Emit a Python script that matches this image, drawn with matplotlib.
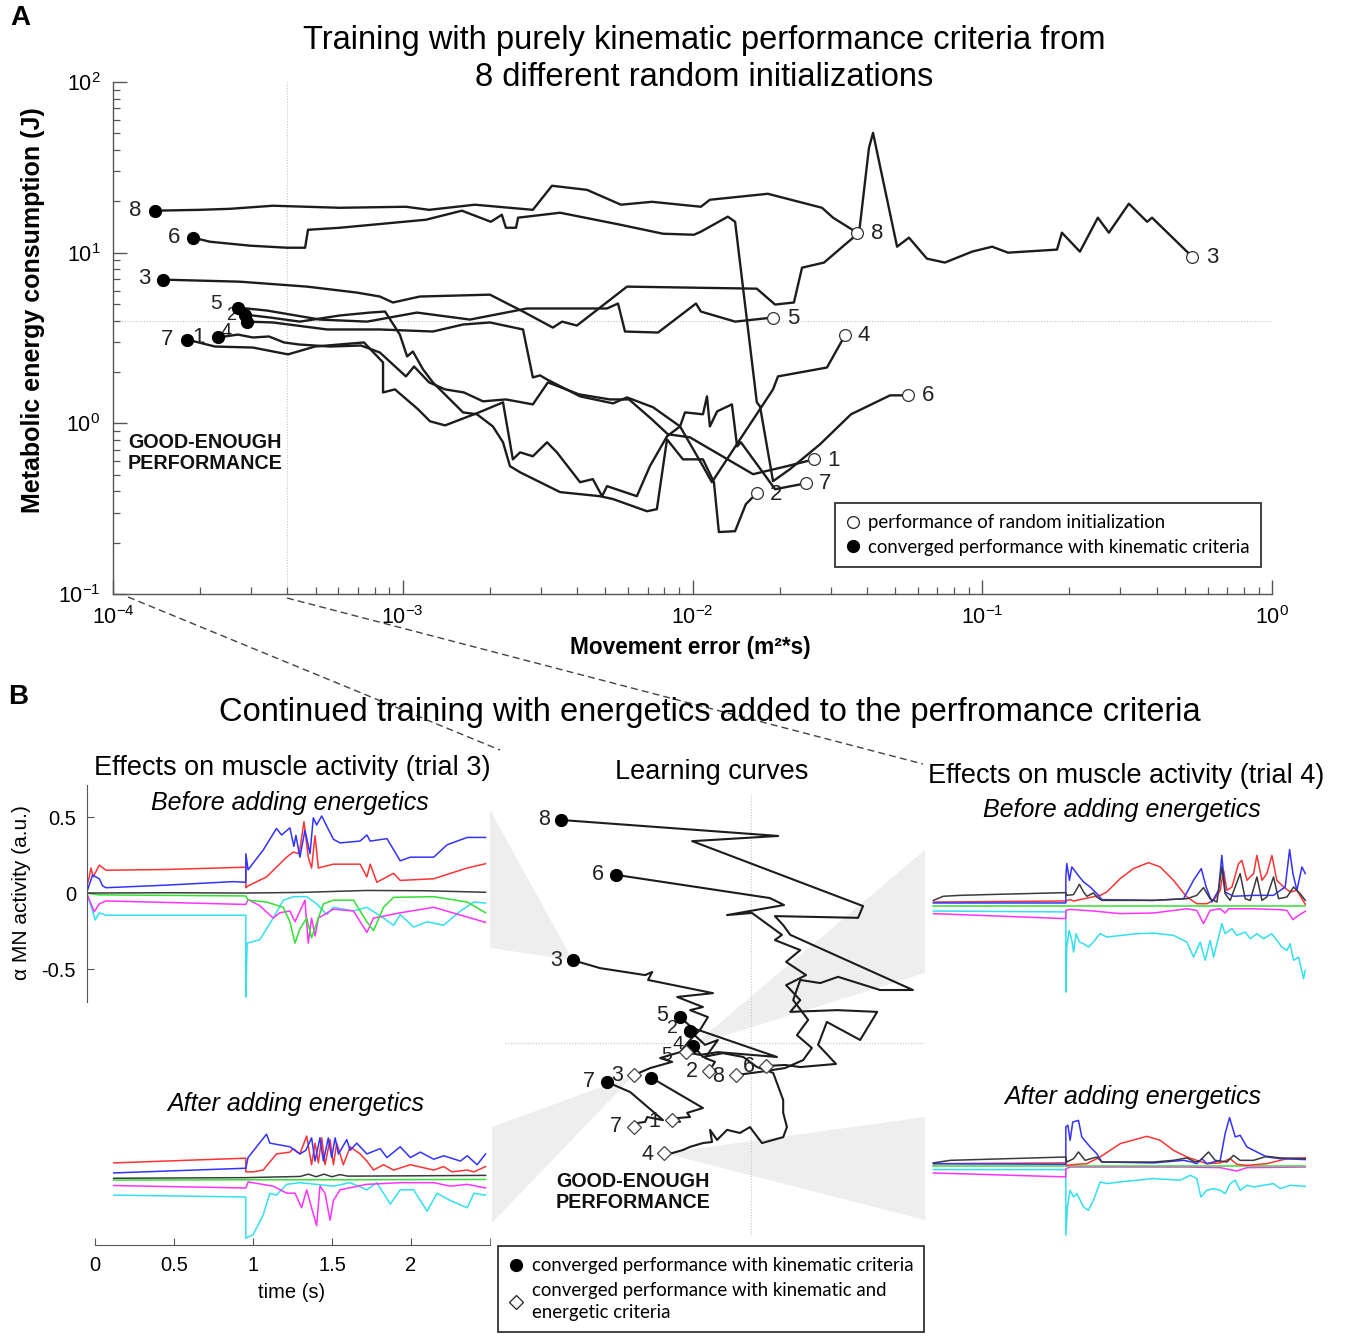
import numpy as np
import matplotlib
matplotlib.use('Agg')
import matplotlib.pyplot as plt
from matplotlib.lines import Line2D
from matplotlib.patches import Polygon
from matplotlib.ticker import FixedLocator, NullFormatter

plt.rcParams['font.family'] = ['Liberation Sans', 'DejaVu Sans']
plt.rcParams['mathtext.fontset'] = 'custom'
plt.rcParams['mathtext.rm'] = 'Liberation Sans'
plt.rcParams['mathtext.it'] = 'Liberation Sans:italic'
plt.rcParams['mathtext.bf'] = 'Liberation Sans:bold'
plt.rcParams['axes.unicode_minus'] = False

# ---------------- DATA (panel A, log10 of movement error / energy) ----------------
trials = [1, 2, 3, 4, 5, 6, 7, 8]
a1_x = [-3.638,-3.569,-3.517,-3.462,-3.410,-3.358,-3.251,-3.144,-3.079,-2.989,-2.961,-2.909,-2.854,-2.789,-2.723,-2.644,-2.551,-2.499,-2.392,-2.285,-2.219,-2.140,-2.085,-2.009,-1.791,-1.674,-1.581]
a1_y = [0.503,0.520,0.503,0.509,0.474,0.462,0.450,0.456,0.415,0.275,0.333,0.240,0.199,0.181,0.129,0.140,0.111,0.240,0.170,0.140,0.140,0.023,-0.064,-0.082,-0.298,-0.251,-0.211]
a2_x = [-3.544,-3.458,-3.355,-3.217,-3.113,-3.061,-3.010,-2.985,-2.965,-2.930,-2.896,-2.792,-2.744,-2.689,-2.654,-2.630,-2.595,-2.457,-2.319,-2.274,-2.157,-2.123,-2.088,-2.033,-1.964,-1.926,-1.909,-1.853,-1.816,-1.778]
a2_y = [0.637,0.620,0.596,0.632,0.649,0.655,0.520,0.392,0.421,0.316,0.240,0.064,0.053,-0.018,-0.111,-0.251,-0.287,-0.403,-0.427,-0.444,-0.515,-0.503,-0.094,-0.211,-0.211,-0.345,-0.637,-0.632,-0.474,-0.409]
a3_x = [-3.827,-3.562,-3.330,-3.158,-3.079,-3.034,-2.941,-2.699,-2.585,-2.482,-2.450,-2.399,-2.226,-1.778,-1.715,-1.650,-1.622,-1.546,-1.474,-1.425,-1.391,-1.377,-1.294,-1.253,-1.191,-1.129,-1.035,-0.966,-0.911,-0.742,-0.725,-0.663,-0.601,-0.563,-0.494,-0.431,-0.414,-0.276]
a3_y = [0.842,0.830,0.801,0.766,0.743,0.708,0.743,0.754,0.655,0.561,0.596,0.573,0.801,0.789,0.696,0.708,0.912,0.942,1.047,1.117,1.614,1.702,1.035,1.088,0.965,0.942,1.006,1.035,1.000,1.018,1.117,1.006,1.205,1.117,1.287,1.181,1.205,0.977]
a4_x = [-3.538,-3.448,-3.261,-3.079,-2.896,-2.792,-2.699,-2.585,-2.551,-2.526,-2.502,-2.388,-2.274,-2.226,-2.136,-2.043,-1.964,-1.933,-1.836,-1.722,-1.705,-1.536,-1.474]
a4_y = [0.596,0.591,0.550,0.550,0.538,0.579,0.591,0.550,0.269,0.281,0.257,0.158,0.117,0.152,0.094,-0.018,-0.251,-0.345,-0.094,0.199,0.275,0.327,0.515]
a5_x = [-3.569,-3.469,-3.286,-3.123,-2.951,-2.768,-2.571,-2.295,-2.257,-2.233,-2.119,-1.988,-1.971,-1.853,-1.722]
a5_y = [0.678,0.661,0.608,0.596,0.649,0.608,0.673,0.673,0.702,0.538,0.532,0.702,0.655,0.596,0.620]
a6_x = [-3.724,-3.665,-3.527,-3.400,-3.337,-3.327,-3.217,-2.920,-2.796,-2.696,-2.658,-2.644,-2.609,-2.602,-2.457,-2.250,-2.102,-1.995,-1.971,-1.878,-1.853,-1.778,-1.767,-1.722,-1.664,-1.560,-1.453,-1.318,-1.256]
a6_y = [1.088,1.064,1.041,1.029,1.029,1.134,1.146,1.193,1.246,1.181,1.222,1.146,1.146,1.205,1.234,1.164,1.111,1.105,1.123,1.211,1.181,0.123,0.099,-0.339,-0.269,-0.123,0.053,0.164,0.164]
a7_x = [-3.745,-3.648,-3.517,-3.396,-3.303,-3.134,-3.068,-3.068,-3.027,-2.947,-2.906,-2.854,-2.737,-2.654,-2.620,-2.595,-2.551,-2.502,-2.468,-2.388,-2.344,-2.312,-2.295,-2.192,-2.147,-2.088,-2.043,-2.026,-1.964,-1.950,-1.940,-1.915,-1.864,-1.846,-1.833,-1.715,-1.608]
a7_y = [0.491,0.450,0.444,0.404,0.450,0.474,0.357,0.181,0.199,0.082,0.012,-0.012,0.064,0.123,-0.211,-0.170,-0.193,-0.111,-0.170,-0.345,-0.327,-0.427,-0.368,-0.427,-0.251,-0.076,-0.018,0.064,0.053,0.158,-0.018,0.070,0.111,-0.135,-0.111,-0.386,-0.351]
a8_x = [-3.855,-3.700,-3.596,-3.448,-3.217,-2.989,-2.909,-2.751,-2.551,-2.485,-2.364,-2.247,-2.140,-1.971,-1.940,-1.740,-1.553,-1.515,-1.432]
a8_y = [1.246,1.251,1.257,1.275,1.263,1.269,1.251,1.281,1.251,1.392,1.368,1.281,1.298,1.269,1.310,1.345,1.263,1.205,1.117]

# ---------------- DATA (panel B learning curves, log10) ----------------
m1_x = [-3.638,-3.514,-3.552,-3.545,-3.576,-3.569,-3.588]
m1_y = [0.503,0.416,0.402,0.390,0.387,0.376,0.381]
m2_x = [-3.544,-3.509,-3.478,-3.509,-3.485,-3.499]
m2_y = [0.637,0.598,0.612,0.560,0.549,0.523]
m3_x = [-3.827,-3.761,-3.653,-3.636,-3.646,-3.490,-3.576,-3.514,-3.545,-3.502,-3.521,-3.545,-3.569,-3.617,-3.588,-3.641,-3.680]
m3_y = [0.842,0.819,0.799,0.808,0.785,0.747,0.736,0.707,0.698,0.678,0.641,0.612,0.577,0.560,0.549,0.531,0.511]
m4_x = [-3.538,-3.514,-3.466,-3.417,-3.384,-3.345,-3.321,-3.321,-3.312,-3.321,-3.372,-3.401,-3.425,-3.456,-3.480,-3.497,-3.492,-3.514,-3.545,-3.562,-3.588,-3.607]
m4_y = [0.596,0.563,0.574,0.563,0.534,0.517,0.439,0.402,0.361,0.332,0.315,0.361,0.344,0.353,0.324,0.353,0.318,0.315,0.304,0.295,0.286,0.286]
m5_x = [-3.569,-3.540,-3.336,-3.478,-3.521,-3.555]
m5_y = [0.678,0.647,0.563,0.577,0.569,0.577]
m6_x = [-3.724,-3.353,-3.319,-3.456,-3.396,-3.324,-3.341,-3.280,-3.314,-3.266,-3.314,-3.280,-3.304,-3.191,-3.095,-3.136,-3.216,-3.237,-3.194,-3.280,-3.317,-3.362]
m6_y = [1.088,1.021,1.001,0.972,0.978,0.915,0.900,0.871,0.837,0.799,0.770,0.727,0.693,0.698,0.693,0.612,0.664,0.598,0.543,0.534,0.540,0.537]
m7_x = [-3.745,-3.689,-3.610,-3.648,-3.653,-3.670,-3.680]
m7_y = [0.491,0.462,0.381,0.390,0.376,0.373,0.361]
m8_x = [-3.855,-3.333,-3.540,-3.129,-3.141,-3.341,-3.321,-3.304,-3.009,-3.088,-3.189,-3.232,-3.280,-3.297,-3.261,-3.288,-3.252,-3.273,-3.317,-3.377,-3.434]
m8_y = [1.246,1.200,1.185,0.998,0.964,0.969,0.943,0.915,0.756,0.756,0.794,0.776,0.785,0.727,0.670,0.626,0.589,0.554,0.531,0.520,0.511]

err_threshold = 4e-4
energy_threshold = 4.0

# ---------------- DATA (muscle activity, time s / a.u.) ----------------
t3b_red = [-0.053,-0.036,-0.025,-0.011,0.028,0.07,0.45,0.955,0.955,0.969,1.086,1.213,1.255,1.293,1.323,1.35,1.371,1.393,1.414,1.509,1.678,1.721,1.742,1.784,1.89,1.932,2.144,2.356,2.472]
v3b_red = [0.035,0.106,0.165,0.106,0.184,0.15,0.155,0.17,0.035,0.047,0.106,0.236,0.27,0.259,0.47,0.236,0.165,0.377,0.165,0.19,0.19,0.106,0.19,0.071,0.13,0.083,0.094,0.165,0.193]
t3b_blue = [-0.053,-0.015,0.028,0.049,0.07,0.45,0.874,0.955,0.955,0.969,1.065,1.149,1.181,1.234,1.259,1.272,1.297,1.329,1.361,1.382,1.403,1.435,1.509,1.551,1.678,1.721,1.742,1.848,1.932,1.996,2.144,2.229,2.356,2.472]
v3b_blue = [0,0.118,0.094,0.047,0.035,0.052,0.075,0.071,0.259,0.153,0.283,0.425,0.382,0.429,0.307,0.38,0.236,0.413,0.259,0.495,0.448,0.507,0.354,0.33,0.342,0.382,0.342,0.358,0.212,0.236,0.236,0.318,0.366,0.366]
t3b_black = [-0.053,0.45,0.955,1.3,1.721,2.1,2.472]
v3b_black = [0,0.002,0,0.004,0.017,0.015,0.005]
t3b_green = [-0.053,0.028,0.955,0.969,1.086,1.192,1.234,1.266,1.297,1.34,1.371,1.414,1.446,1.509,1.636,1.721,1.763,1.826,1.89,2.144,2.356,2.472]
v3b_green = [0,-0.012,-0.019,-0.047,-0.059,-0.094,-0.189,-0.33,-0.236,-0.165,-0.295,-0.165,-0.071,-0.047,-0.047,-0.189,-0.248,-0.094,-0.028,-0.024,-0.059,-0.13]
t3b_magenta = [-0.053,-0.015,-0.004,0.028,0.07,0.955,0.969,1.043,1.128,1.17,1.234,1.266,1.329,1.35,1.371,1.393,1.414,1.509,1.636,1.721,1.763,1.932,2.144,2.472]
v3b_magenta = [0,-0.094,-0.123,-0.071,-0.052,-0.075,-0.042,-0.083,-0.165,-0.13,-0.118,-0.189,-0.047,-0.33,-0.165,-0.283,-0.165,-0.106,-0.118,-0.259,-0.165,-0.13,-0.094,-0.193]
t3b_cyan = [-0.053,-0.015,0.002,0.028,0.07,0.955,0.955,0.963,1.043,1.128,1.192,1.255,1.34,1.403,1.467,1.509,1.636,1.721,1.826,1.89,1.932,2.017,2.102,2.207,2.313,2.398,2.472]
v3b_cyan = [0,-0.118,-0.177,-0.13,-0.146,-0.146,-0.684,-0.33,-0.307,-0.165,-0.047,-0.024,-0.024,-0.071,-0.142,-0.094,-0.118,-0.094,-0.165,-0.212,-0.142,-0.224,-0.189,-0.212,-0.118,-0.059,-0.066]

t3a_red = [0.119,0.955,0.955,1.001,1.065,1.149,1.234,1.255,1.297,1.34,1.371,1.393,1.414,1.435,1.456,1.488,1.509,1.53,1.572,1.615,1.678,1.721,1.763,1.826,1.89,1.996,2.144,2.207,2.26,2.356,2.398,2.472]
v3a_red = [0.099,0.13,0.04,0.04,0.052,0.158,0.17,0.193,0.158,0.276,0.087,0.229,0.099,0.264,0.087,0.252,0.087,0.229,0.087,0.205,0.158,0.111,0.052,0.087,0.052,0.087,0.052,0.075,0.04,0.052,0.04,0.075]
t3a_blue = [0.119,0.955,0.969,1.086,1.107,1.234,1.297,1.335,1.371,1.393,1.424,1.446,1.477,1.498,1.52,1.541,1.594,1.615,1.657,1.721,1.805,1.848,1.932,1.996,2.059,2.144,2.207,2.313,2.356,2.419,2.472]
v3a_blue = [0.033,0.064,0.134,0.288,0.229,0.205,0.158,0.182,0.264,0.111,0.264,0.111,0.264,0.134,0.264,0.158,0.252,0.182,0.229,0.158,0.193,0.134,0.205,0.134,0.17,0.123,0.146,0.111,0.146,0.087,0.158]
t3a_black = [0.119,0.955,1.3,1.35,1.4,1.45,1.5,1.55,1.6,2.0,2.472]
v3a_black = [-0.002,0.002,0.01,0.025,0.008,0.025,0.008,0.022,0.012,0.014,0.017]
t3a_green = [0.119,0.955,1.5,2.472]
v3a_green = [-0.014,-0.012,-0.012,-0.01]
t3a_magenta = [0.119,0.955,0.969,1.128,1.213,1.266,1.308,1.34,1.371,1.403,1.424,1.456,1.488,1.509,1.551,1.721,1.932,2.144,2.25,2.356,2.472]
v3a_magenta = [-0.05,-0.066,-0.026,-0.054,-0.1,-0.1,-0.196,-0.078,-0.196,-0.314,-0.054,-0.101,-0.278,-0.149,-0.078,-0.042,-0.031,-0.031,-0.054,-0.042,-0.066]
t3a_cyan = [0.119,0.955,0.955,1.001,1.065,1.107,1.149,1.213,1.297,1.509,1.615,1.721,1.784,1.869,1.932,2.017,2.102,2.165,2.25,2.356,2.398,2.472]
v3a_cyan = [-0.113,-0.125,-0.396,-0.373,-0.243,-0.101,-0.113,-0.042,-0.031,-0.054,-0.031,-0.078,-0.031,-0.172,-0.078,-0.078,-0.219,-0.101,-0.149,-0.196,-0.101,-0.113]

t4b_black = [0.117,0.180,0.286,0.455,0.955,0.961,1.004,1.041,1.067,1.088,1.130,1.151,1.183,1.510,1.721,1.784,1.826,1.868,1.911,1.942,1.963,1.995,2.058,2.090,2.122,2.164,2.196,2.227,2.269,2.301,2.354,2.396,2.438,2.470]
v4b_black = [0.037,0.064,0.070,0.075,0.088,0.070,0.075,0.143,0.092,0.064,0.086,0.059,0.037,0.037,0.048,0.070,0.121,0.048,0.026,0.257,0.081,0.037,0.213,0.048,0.037,0.191,0.037,0.059,0.191,0.048,0.059,0.125,0.081,0.037]
t4b_red = [0.117,0.955,0.961,0.982,1.004,1.172,1.214,1.299,1.383,1.478,1.552,1.636,1.721,1.784,1.847,1.890,1.932,1.953,1.974,2.006,2.048,2.069,2.101,2.143,2.164,2.196,2.227,2.259,2.290,2.333,2.375,2.417,2.470]
v4b_red = [0.026,0.033,0.037,0.042,0.033,0.070,0.092,0.180,0.246,0.285,0.257,0.169,0.059,0.015,0.015,0.037,0.103,0.235,0.103,0.125,0.279,0.300,0.169,0.213,0.333,0.169,0.213,0.333,0.169,0.125,0.092,0.103,0.011]
t4b_blue = [0.117,0.955,0.955,0.961,0.978,0.993,1.025,1.067,1.109,1.162,1.183,1.510,1.700,1.763,1.812,1.843,1.879,1.921,1.942,1.963,2.016,2.143,2.269,2.312,2.343,2.371,2.392,2.417,2.449,2.470]
v4b_blue = [0.020,0.020,0.191,0.279,0.169,0.257,0.213,0.158,0.125,0.070,0.042,0.037,0.048,0.169,0.246,0.125,0.026,0.103,0.333,0.092,0.064,0.070,0.070,0.103,0.125,0.371,0.213,0.103,0.257,0.213]
t4b_green = [0.117,2.470]
v4b_green = [0.0,0.0]
t4b_magenta = [0.117,0.955,0.955,0.982,1.130,1.299,1.510,1.721,1.784,1.826,1.868,1.932,1.963,1.985,2.143,2.312,2.354,2.392,2.428,2.470]
v4b_magenta = [-0.050,-0.083,-0.029,-0.022,-0.033,-0.050,-0.046,-0.018,-0.029,-0.116,-0.029,-0.018,-0.046,-0.018,-0.018,-0.024,-0.029,-0.090,-0.061,-0.035]
t4b_cyan = [0.117,0.955,0.955,0.961,0.976,0.993,1.004,1.020,1.041,1.067,1.098,1.130,1.162,1.172,1.214,1.404,1.510,1.636,1.721,1.763,1.805,1.837,1.868,1.890,1.932,1.942,1.963,2.006,2.037,2.090,2.122,2.164,2.206,2.259,2.290,2.322,2.354,2.375,2.396,2.428,2.459,2.470]
v4b_cyan = [-0.033,-0.039,-0.566,-0.270,-0.160,-0.226,-0.303,-0.182,-0.237,-0.248,-0.270,-0.237,-0.193,-0.182,-0.204,-0.182,-0.178,-0.193,-0.237,-0.336,-0.237,-0.357,-0.226,-0.336,-0.160,-0.116,-0.182,-0.149,-0.193,-0.171,-0.215,-0.182,-0.215,-0.182,-0.226,-0.270,-0.292,-0.248,-0.357,-0.336,-0.478,-0.423]

t4a_black = [0.117,0.223,0.955,0.961,1.004,1.035,1.077,1.151,1.183,1.510,1.636,1.721,1.774,1.805,1.858,1.900,1.974,2.016,2.058,2.143,2.227,2.312,2.470]
v4a_black = [0.020,0.037,0.059,0.026,0.048,0.092,0.037,0.059,0.026,0.026,0.037,0.053,0.026,0.037,0.092,0.037,0.026,0.070,0.037,0.037,0.064,0.053,0.048]
t4a_red = [0.117,0.955,0.961,1.025,1.088,1.172,1.299,1.468,1.552,1.636,1.721,1.784,1.847,1.932,1.995,2.037,2.101,2.227,2.312,2.354,2.470]
v4a_red = [0.015,0.020,0.004,0.011,0.015,0.059,0.147,0.195,0.169,0.103,0.059,0.037,0.015,0.020,0.048,0.011,0.004,0.015,0.037,0.048,0.053]
t4a_blue = [0.117,0.955,0.955,0.968,0.982,0.999,1.035,1.056,1.109,1.151,1.183,1.510,1.700,1.752,1.784,1.816,1.847,1.932,1.963,1.991,2.027,2.058,2.101,2.143,2.227,2.312,2.470]
v4a_blue = [0.015,0.011,0.257,0.268,0.169,0.289,0.300,0.191,0.125,0.081,0.026,0.020,0.037,0.026,0.015,0.048,0.015,0.037,0.213,0.318,0.191,0.202,0.125,0.103,0.059,0.048,0.042]
t4a_green = [0.117,2.470]
v4a_green = [0.0,0.0]
t4a_magenta = [0.117,0.955,0.955,0.982,1.299,1.721,1.932,2.037,2.101,2.470]
v4a_magenta = [-0.046,-0.072,-0.018,-0.007,-0.007,-0.007,-0.011,-0.033,-0.011,-0.007]
t4a_cyan = [0.117,0.955,0.955,0.965,0.982,1.004,1.025,1.067,1.098,1.130,1.172,1.214,1.299,1.510,1.679,1.742,1.784,1.809,1.847,1.890,1.932,1.963,1.995,2.027,2.058,2.101,2.143,2.206,2.269,2.312,2.375,2.470]
v4a_cyan = [-0.024,-0.024,-0.456,-0.270,-0.160,-0.204,-0.182,-0.270,-0.292,-0.226,-0.105,-0.116,-0.105,-0.083,-0.094,-0.061,-0.083,-0.204,-0.160,-0.149,-0.160,-0.182,-0.116,-0.094,-0.160,-0.127,-0.138,-0.127,-0.116,-0.149,-0.127,-0.134]

# ---------------- FIGURE ----------------
W, H = 1346, 1336
fig = plt.figure(figsize=(W / 100, H / 100), dpi=100)


def P(x, y):
    return (x / W, 1 - y / H)


def box(x0, y0, x1, y1):
    return [x0 / W, 1 - y1 / H, (x1 - x0) / W, (y1 - y0) / H]


LINE = '#1c1c1c'
AX = '#555555'
LEGFONT = {'family': 'Lato', 'size': 13.4}

A_x = {1: a1_x, 2: a2_x, 3: a3_x, 4: a4_x, 5: a5_x, 6: a6_x, 7: a7_x, 8: a8_x}
A_y = {1: a1_y, 2: a2_y, 3: a3_y, 4: a4_y, 5: a5_y, 6: a6_y, 7: a7_y, 8: a8_y}
M_x = {1: m1_x, 2: m2_x, 3: m3_x, 4: m4_x, 5: m5_x, 6: m6_x, 7: m7_x, 8: m8_x}
M_y = {1: m1_y, 2: m2_y, 3: m3_y, 4: m4_y, 5: m5_y, 6: m6_y, 7: m7_y, 8: m8_y}

# ---------------- Panel A ----------------
axA = fig.add_axes(box(113, 82, 1272, 594))
axA.set_xscale('log')
axA.set_yscale('log')
axA.set_xlim(1e-4, 1)
axA.set_ylim(0.1, 100)
axA.patch.set_visible(False)
for s in ['top', 'right']:
    axA.spines[s].set_visible(False)
for s in ['left', 'bottom']:
    axA.spines[s].set_color(AX)
    axA.spines[s].set_linewidth(1.0)
axA.set_xticks([1e-4, 1e-3, 1e-2, 1e-1, 1])
axA.set_xticklabels(['$10^{-4}$', '$10^{-3}$', '$10^{-2}$', '$10^{-1}$', '$10^{0}$'])
axA.set_yticks([0.1, 1, 10, 100])
axA.set_yticklabels(['$10^{-1}$', '$10^{0}$', '$10^{1}$', '$10^{2}$'])
axA.tick_params(which='major', direction='in', length=10, width=1.0, color=AX, labelsize=15.5, pad=9)
axA.tick_params(which='minor', direction='in', length=5, width=0.9, color=AX)
axA.axvline(err_threshold, color='#c8c8c8', lw=0.8, ls=(0, (1, 1.5)), zorder=0)
axA.axhline(energy_threshold, color='#c8c8c8', lw=0.8, ls=(0, (1, 1.5)), zorder=0)

left_off = {8: (-20, 0), 6: (-19, 0), 3: (-19, 1), 5: (-22, 4), 2: (-14, -1), 4: (-21, -10), 7: (-20, 0), 1: (-19, 0)}
right_off = {8: (20, -1), 3: (20, -1), 5: (20, -1), 4: (19, 0), 6: (20, 0), 1: (20, -1), 7: (19, 0), 2: (19, -1)}
left_size = {5: 15, 2: 13, 4: 14.5}
for k in trials:
    x = 10 ** np.array(A_x[k])
    y = 10 ** np.array(A_y[k])
    axA.plot(x, y, color=LINE, lw=1.7, zorder=2)
for k in trials:
    x = 10 ** np.array(A_x[k])
    y = 10 ** np.array(A_y[k])
    axA.plot(x[0], y[0], 'o', ms=8.5, mfc='black', mec='black', zorder=4)
    axA.plot(x[-1], y[-1], 'o', ms=8.5, mfc='white', mec='#333333', mew=0.9, zorder=4)
    axA.annotate(str(k), (x[0], y[0]), xytext=left_off[k], textcoords='offset pixels',
                 ha='center', va='center', fontsize=left_size.get(k, 16), color='#222222', zorder=3)
    axA.annotate(str(k), (x[-1], y[-1]), xytext=right_off[k], textcoords='offset pixels',
                 ha='center', va='center', fontsize=16, color='#222222', zorder=5)

fig.text(*P(128, 453), 'GOOD-ENOUGH\nPERFORMANCE', fontsize=14.2, fontweight='bold',
         ha='left', va='center', linespacing=1.15, color='#111111')

hA = [Line2D([], [], ls='none', marker='o', ms=8.5, mfc='white', mec='#222222', mew=0.9),
      Line2D([], [], ls='none', marker='o', ms=8.5, mfc='black', mec='black')]
legA = fig.legend(hA, ['performance of random initialization', 'converged performance with kinematic criteria'],
                  loc='upper left', bbox_to_anchor=P(835, 503), bbox_transform=fig.transFigure,
                  frameon=True, fancybox=False, edgecolor='black', prop=LEGFONT,
                  handlelength=0.7, handletextpad=0.5, borderpad=0.6, labelspacing=0.42, borderaxespad=0)
legA.get_frame().set_linewidth(1.3)

fig.text(*P(20, 18), 'A', fontsize=20, fontweight='bold', ha='center', va='center')
fig.text(*P(704, 40), 'Training with purely kinematic performance criteria from', fontsize=23.5, ha='center', va='center')
fig.text(*P(704, 78), '8 different random initializations', fontsize=23.5, ha='center', va='center')
fig.text(*P(33, 310), 'Metabolic energy consumption (J)', fontsize=18, fontweight='bold', rotation=90,
         ha='center', va='center')
fig.text(*P(690, 648), 'Movement error (m²*s)', fontsize=16.3, fontweight='bold', ha='center', va='center')

# ---------------- Panel B: middle learning curves ----------------
axM = fig.add_axes(box(505, 795, 925, 1235))
axM.set_xscale('log')
axM.set_yscale('log')
axM.set_xlim(10 ** -3.990, 10 ** -2.980)
axM.set_ylim(10 ** 0.050, 10 ** 1.318)
axM.patch.set_visible(False)
for s in axM.spines.values():
    s.set_visible(False)
axM.tick_params(which='both', left=False, bottom=False, labelleft=False, labelbottom=False)
axM.axvline(err_threshold, color='#c8c8c8', lw=0.8, ls=(0, (1, 1.5)), zorder=0)
axM.axhline(energy_threshold, color='#c8c8c8', lw=0.8, ls=(0, (1, 1.5)), zorder=0)
for k in trials:
    axM.plot(10 ** np.array(M_x[k]), 10 ** np.array(M_y[k]), color=LINE, lw=1.5, zorder=2)
dot_off = {8: (-17, 0), 6: (-18, 0), 3: (-17, 0), 5: (-18, 2), 2: (-18, 3), 4: (-15, 1), 7: (-18, 0)}
dia_off = {5: (-19, -3), 3: (-17, 0), 2: (-17, -1), 8: (-18, -1), 6: (-17, 0), 7: (-18, 1), 1: (-18, -1), 4: (-17, -1)}
for k in trials:
    x = 10 ** np.array(M_x[k])
    y = 10 ** np.array(M_y[k])
    axM.plot(x[0], y[0], 'o', ms=8.5, mfc='black', mec='black', zorder=4)
    axM.plot(x[-1], y[-1], 'D', ms=7, mfc='white', mec='#444444', mew=0.9, zorder=4)
    if k in dot_off:
        axM.annotate(str(k), (x[0], y[0]), xytext=dot_off[k], textcoords='offset pixels',
                     ha='center', va='center', fontsize=15.5 if k not in (2, 4) else 14,
                     color='#222222', zorder=5)
    axM.annotate(str(k), (x[-1], y[-1]), xytext=dia_off[k], textcoords='offset pixels',
                 ha='center', va='center', fontsize=15.5 if k != 5 else 14, color='#222222', zorder=5)

fig.text(*P(556, 1192), 'GOOD-ENOUGH\nPERFORMANCE', fontsize=14.2, fontweight='bold',
         ha='left', va='center', linespacing=1.15, color='#111111')

hM = [Line2D([], [], ls='none', marker='o', ms=8.5, mfc='black', mec='black'),
      Line2D([], [], ls='none', marker='D', ms=7, mfc='white', mec='#222222', mew=0.9)]
legM = fig.legend(hM, ['converged performance with kinematic criteria',
                       'converged performance with kinematic and\nenergetic criteria'],
                  loc='upper left', bbox_to_anchor=P(498, 1246), bbox_transform=fig.transFigure,
                  frameon=True, fancybox=False, edgecolor='black', prop=LEGFONT,
                  handlelength=0.7, handletextpad=0.5, borderpad=0.6, labelspacing=0.42, borderaxespad=0)
legM.get_frame().set_linewidth(1.3)
for txt in legM.get_texts():
    txt.set_linespacing(1.35)

# gray zoom wedges (tips at the trial-3 and trial-4 points)
def fig_pt(ax, lx, ly):
    d = ax.transData.transform((10 ** lx, 10 ** ly))
    return tuple(fig.transFigure.inverted().transform(d))

wedges = [
    ([P(490, 810), P(490, 948)], fig_pt(axM, m3_x[0], m3_y[0])),
    ([P(492, 1127), P(492, 1223)], fig_pt(axM, m3_x[-1], m3_y[-1])),
    ([P(925, 850), P(925, 973)], fig_pt(axM, m4_x[0], m4_y[0])),
    ([P(925, 1117), P(925, 1220)], fig_pt(axM, m4_x[-1], m4_y[-1])),
]
for (p1, p2), tip in wedges:
    fig.add_artist(Polygon([p1, p2, tip], closed=True, transform=fig.transFigure,
                           facecolor='#eeeeee', edgecolor='none', zorder=-5))

# dashed connectors from panel A
for (x0, y0), (x1, y1) in [((128, 597), (500, 750)), ((287, 598), (923, 764))]:
    a, b = P(x0, y0), P(x1, y1)
    fig.add_artist(Line2D([a[0], b[0]], [a[1], b[1]], transform=fig.transFigure,
                          ls=(0, (5, 3)), color='#444444', lw=1.0))

fig.text(*P(18, 697), 'B', fontsize=20, fontweight='bold', ha='center', va='center')
fig.text(*P(710, 713), 'Continued training with energetics added to the perfromance criteria',
         fontsize=23.5, ha='center', va='center')
fig.text(*P(292, 768), 'Effects on muscle activity (trial 3)', fontsize=19.5, ha='center', va='center')
fig.text(*P(712, 772), 'Learning curves', fontsize=19.5, ha='center', va='center')
fig.text(*P(1126, 776), 'Effects on muscle activity (trial 4)', fontsize=19.5, ha='center', va='center')
fig.text(*P(290, 803), 'Before adding energetics', fontsize=18, style='italic', ha='center', va='center')
fig.text(*P(1122, 810), 'Before adding energetics', fontsize=18, style='italic', ha='center', va='center')
fig.text(*P(296, 1104), 'After adding energetics', fontsize=18, style='italic', ha='center', va='center')
fig.text(*P(1133, 1097), 'After adding energetics', fontsize=18, style='italic', ha='center', va='center')

# ---------------- muscle activity panels ----------------
COL = {'cyan': '#33e0ee', 'magenta': '#ff33ff', 'green': '#33e033', 'black': '#3a3a3a',
       'red': '#ff3333', 'blue': '#3333ff'}


def muscle(rect, series, ylim):
    ax = fig.add_axes(rect)
    for t, v, c in series:
        ax.plot(t, v, color=COL[c], lw=1.1)
    ax.set_xlim(-0.05, 2.5)
    ax.set_ylim(*ylim)
    ax.patch.set_visible(False)
    for s in ax.spines.values():
        s.set_visible(False)
    ax.set_xticks([])
    ax.set_yticks([])
    return ax


ax3b = muscle(box(87, 785, 490, 1002),
              [(t3b_cyan, v3b_cyan, 'cyan'), (t3b_magenta, v3b_magenta, 'magenta'),
               (t3b_green, v3b_green, 'green'), (t3b_black, v3b_black, 'black'),
               (t3b_red, v3b_red, 'red'), (t3b_blue, v3b_blue, 'blue')], (-0.717, 0.711))
ax3b.spines['left'].set_visible(True)
ax3b.spines['left'].set_color(AX)
ax3b.set_yticks([-0.5, 0, 0.5])
ax3b.set_yticklabels(['-0.5', '0', '0.5'])
ax3b.tick_params(axis='y', direction='in', length=5, color=AX, labelsize=14.5, pad=8)
fig.text(*P(22, 893), 'α MN activity (a.u.)', fontsize=15, rotation=90, ha='center', va='center')

ax3a = muscle(box(87, 1110, 490, 1245),
              [(t3a_cyan, v3a_cyan, 'cyan'), (t3a_magenta, v3a_magenta, 'magenta'),
               (t3a_green, v3a_green, 'green'), (t3a_black, v3a_black, 'black'),
               (t3a_red, v3a_red, 'red'), (t3a_blue, v3a_blue, 'blue')], (-0.441, 0.447))
ax3a.spines['bottom'].set_visible(True)
ax3a.spines['bottom'].set_color(AX)
ax3a.spines['bottom'].set_bounds(0, 2.5)
ax3a.set_xticks([0, 0.5, 1, 1.5, 2])
ax3a.set_xticklabels(['0', '0.5', '1', '1.5', '2'])
ax3a.xaxis.set_minor_locator(FixedLocator([2.5]))
ax3a.xaxis.set_minor_formatter(NullFormatter())
ax3a.tick_params(axis='x', which='both', direction='in', length=5, color=AX, labelsize=14.5, pad=8)
fig.text(*P(292, 1293), 'time (s)', fontsize=14.5, ha='center', va='center')

muscle(box(907, 840, 1310, 1000),
       [(t4b_cyan, v4b_cyan, 'cyan'), (t4b_magenta, v4b_magenta, 'magenta'),
        (t4b_green, v4b_green, 'green'), (t4b_red, v4b_red, 'red'),
        (t4b_blue, v4b_blue, 'blue'), (t4b_black, v4b_black, 'black')], (-0.618, 0.434))
muscle(box(907, 1100, 1310, 1245),
       [(t4a_cyan, v4a_cyan, 'cyan'), (t4a_magenta, v4a_magenta, 'magenta'),
        (t4a_green, v4a_green, 'green'), (t4a_red, v4a_red, 'red'),
        (t4a_blue, v4a_blue, 'blue'), (t4a_black, v4a_black, 'black')], (-0.52, 0.434))

fig.savefig('out.png', dpi=100)
